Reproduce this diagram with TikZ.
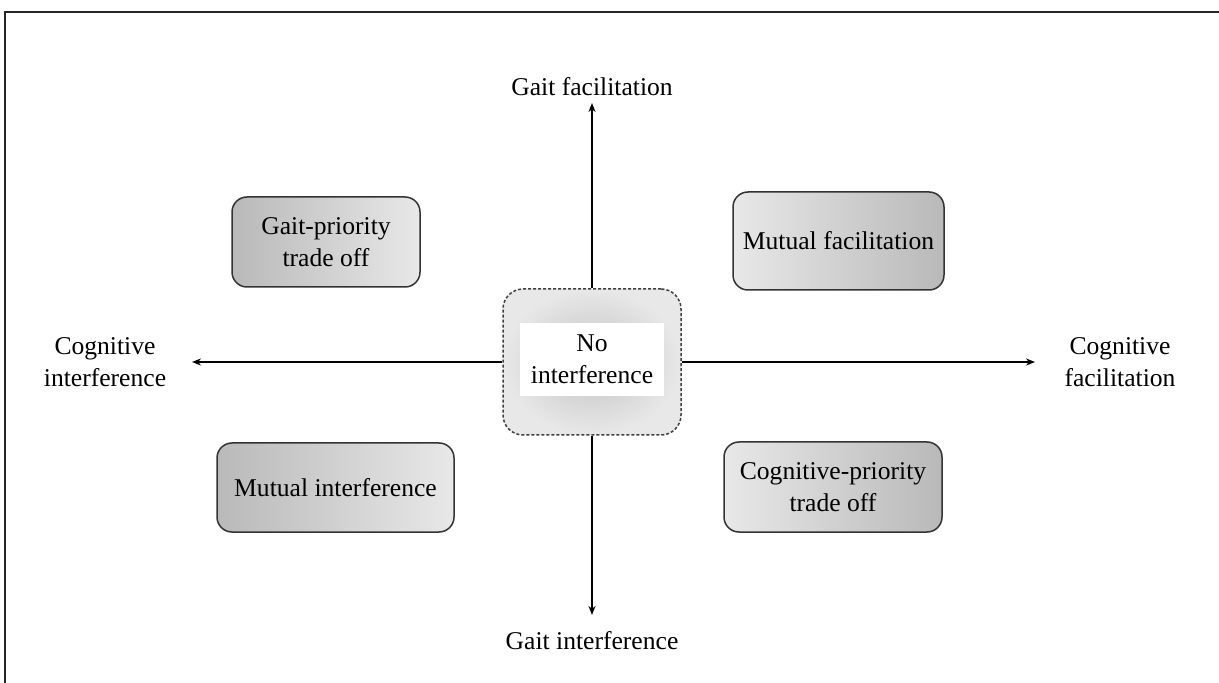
\documentclass[tikz,border=0pt]{standalone}
\usepackage{fontspec}
\setmainfont{Liberation Serif}
\usetikzlibrary{arrows.meta}
\begin{document}
\begin{tikzpicture}[x=0.5pt,y=-0.5pt,
  lbl/.style={font=\fontsize{12.8}{16}\selectfont, align=center, inner sep=0pt},
  qbox/.style={lbl, draw=black!80, line width=0.75pt, rounded corners=7.5pt},
  darkleft/.style={left color=gray!55, right color=gray!18},
  darkright/.style={left color=gray!18, right color=gray!55},
  axis/.style={line width=0.75pt, -{Stealth[length=4.5pt,width=3.5pt]}}
]
\useasboundingbox (0,0) rectangle (1219,683);
% frame (top and left edges)
\draw[line width=1.2pt, black!85] (5,683) -- (5,12) -- (1219,12);

% center
\node[lbl, draw=black!75, dash pattern=on 1.5pt off 1pt, line width=0.75pt,
      rounded corners=10pt, minimum width=89pt, minimum height=73pt,
      inner color=gray!48, outer color=gray!18] (ctr) at (592,362) {};
\node[lbl, fill=white, minimum width=72pt, minimum height=36.5pt] (ctrtxt) at (592,359.5) {No\\interference};

% quadrant boxes
\node[qbox, darkleft, minimum width=94pt, minimum height=45pt] (gp) at (326,242) {Gait-priority\\trade off};
\node[qbox, darkright, minimum width=105.5pt, minimum height=49pt] (mf) at (838.5,241) {Mutual facilitation};
\node[qbox, darkleft, minimum width=118.5pt, minimum height=44.5pt] (mi) at (335.5,487.5) {Mutual interference};
\node[qbox, darkright, minimum width=109pt, minimum height=45pt] (cp) at (833,487) {Cognitive-priority\\trade off};

% axis labels
\node[lbl] (gf) at (592,87) {Gait facilitation};
\node[lbl] (gi) at (592,641) {Gait interference};
\node[lbl] (ci) at (105,362) {Cognitive\\interference};
\node[lbl] (cf) at (1120,362) {Cognitive\\facilitation};

% arrow tips
\coordinate (tipN) at (592,103);
\coordinate (tipS) at (592,615);
\coordinate (tipW) at (192,362);
\coordinate (tipE) at (1035,362);

\draw[axis] (ctr.north) -- (tipN);
\draw[axis] (ctr.south) -- (tipS);
\draw[axis] (ctr.west) -- (tipW);
\draw[axis] (ctr.east) -- (tipE);
\end{tikzpicture}
\end{document}
